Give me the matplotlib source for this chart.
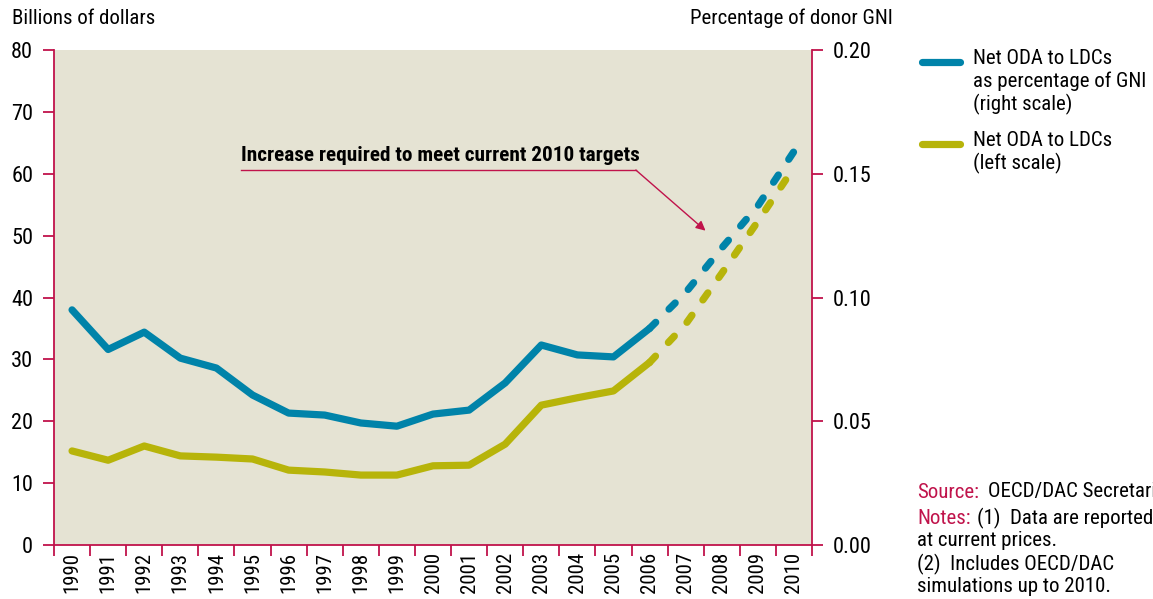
import matplotlib
matplotlib.use("Agg")
import matplotlib.pyplot as plt
from matplotlib import font_manager
from matplotlib.lines import Line2D

names = {f.name for f in font_manager.fontManager.ttflist}
FONT = None
for cand in ["Liberation Sans Narrow", "Roboto Condensed", "Open Sans Condensed", "Noto Sans", "Open Sans"]:
    if cand in names:
        FONT = cand
        break
plt.rcParams['font.family'] = [FONT, 'DejaVu Sans']

years = [str(y) for y in range(1990, 2011)]
oda_billions = [15.2, 13.7, 16.0, 14.4, 14.2, 13.9, 12.1, 11.8, 11.3, 11.3, 12.8, 12.9, 16.3, 22.6, 23.8, 24.9, 29.5]
oda_billions_target = [29.5, 35.7, 43.9, 52.3, 61.0]
oda_gni_pct = [0.095, 0.079, 0.086, 0.0755, 0.0715, 0.0606, 0.0533, 0.0525, 0.0493, 0.048, 0.0529, 0.0545, 0.0655, 0.0808, 0.0768, 0.076, 0.0875]
oda_gni_pct_target = [0.0875, 0.102, 0.120, 0.137, 0.159]

BLUE = "#0083A9"
YELLOW = "#B7B40A"
BG = "#E5E3D3"
RED = "#C0134B"

fig = plt.figure(figsize=(11.53, 5.99), dpi=100)
ax = fig.add_axes([54/1153, 1-545/599, (812-54)/1153, (545-50)/599])
ax2 = ax.twinx()
ax.set_facecolor(BG)
ax.set_zorder(ax2.get_zorder() - 1)
ax2.patch.set_visible(False)

x_solid = list(range(len(oda_billions)))
x_target = list(range(len(oda_billions) - 1, len(years)))

LW = 5.2
ax.plot(x_solid, oda_billions, color=YELLOW, lw=LW, solid_capstyle='round', solid_joinstyle='round')
ax.plot(x_target, oda_billions_target, color=YELLOW, lw=LW, dashes=(1.2, 2.6),
        dash_capstyle='round', dash_joinstyle='round')
ax2.plot(x_solid, oda_gni_pct, color=BLUE, lw=LW, solid_capstyle='round', solid_joinstyle='round')
ax2.plot(x_target, oda_gni_pct_target, color=BLUE, lw=LW, dashes=(1.2, 2.6),
         dash_capstyle='round', dash_joinstyle='round')

ax.set_xlim(-0.5, len(years) - 0.5)
ax.set_ylim(0, 80)
ax2.set_ylim(0, 0.20)
ax.set_yticks(range(0, 81, 10))
ax2.set_yticks([0.0, 0.05, 0.10, 0.15, 0.20])
ax2.set_yticklabels(["0.00", "0.05", "0.10", "0.15", "0.20"])

# x: labels centered in bins, tick marks at boundaries
ax.set_xticks([i - 0.5 for i in range(len(years) + 1)])
ax.set_xticklabels([])
ax.set_xticks(range(len(years)), minor=True)
ax.set_xticklabels(years, minor=True, rotation=90, fontsize=15)
ax.tick_params(axis='x', which='minor', length=0, pad=5)
ax.tick_params(axis='x', which='major', length=8, width=1.3, color=RED, direction='out')

ax.tick_params(axis='y', length=8, width=1.3, color=RED, labelsize=16, pad=7)
ax2.tick_params(axis='y', length=8, width=1.3, color=RED, labelsize=16, pad=7)

for a in (ax, ax2):
    a.spines['top'].set_visible(False)
    for s in ('left', 'right', 'bottom'):
        a.spines[s].set_color(RED)
        a.spines[s].set_linewidth(1.3)
ax.spines['right'].set_visible(False)
ax2.spines['left'].set_visible(False)
ax2.spines['bottom'].set_visible(False)

# axis titles
fig.text(12/1153, 1-18/599, "Billions of dollars", fontsize=15, va='center', ha='left')
fig.text(893/1153, 1-18/599, "Percentage of donor GNI", fontsize=15, va='center', ha='right')

# annotation
ax.text(4.68, 62.9, "Increase required to meet current 2010 targets", fontsize=15.3,
        fontweight='bold', va='center', ha='left')
ax.plot([4.68, 15.62], [60.6, 60.6], color=RED, lw=1.0)
ax.annotate("", xy=(17.55, 50.8), xytext=(15.62, 60.6),
            arrowprops=dict(arrowstyle='-|>', color=RED, lw=1.0, mutation_scale=14,
                            shrinkA=0, shrinkB=0))

# legend (manual)
fig.add_artist(Line2D([922/1153, 960/1153], [1-62/599, 1-62/599], color=BLUE, lw=LW,
                      solid_capstyle='round', transform=fig.transFigure))
fig.add_artist(Line2D([922/1153, 960/1153], [1-144/599, 1-144/599], color=YELLOW, lw=LW,
                      solid_capstyle='round', transform=fig.transFigure))
fig.text(973/1153, 1-49/599, "Net ODA to LDCs\nas percentage of GNI\n(right scale)",
         fontsize=15, va='top', ha='left', linespacing=1.2)
fig.text(973/1153, 1-131/599, "Net ODA to LDCs\n(left scale)",
         fontsize=15, va='top', ha='left', linespacing=1.2)

# source / notes
fs = 15
fig.text(917/1153, 1-492/599, "Source:", color=RED, fontsize=fs, va='center', ha='left')
fig.text(988/1153, 1-492/599, "OECD/DAC Secretariat", fontsize=fs, va='center', ha='left')
fig.text(917/1153, 1-518/599, "Notes:", color=RED, fontsize=fs, va='center', ha='left')
fig.text(977/1153, 1-518/599, "(1)  Data are reported", fontsize=fs, va='center', ha='left')
fig.text(917/1153, 1-541/599, "at current prices.", fontsize=fs, va='center', ha='left')
fig.text(917/1153, 1-564/599, "(2)  Includes OECD/DAC", fontsize=fs, va='center', ha='left')
fig.text(917/1153, 1-587/599, "simulations up to 2010.", fontsize=fs, va='center', ha='left')

fig.savefig("out.png", dpi=100)
